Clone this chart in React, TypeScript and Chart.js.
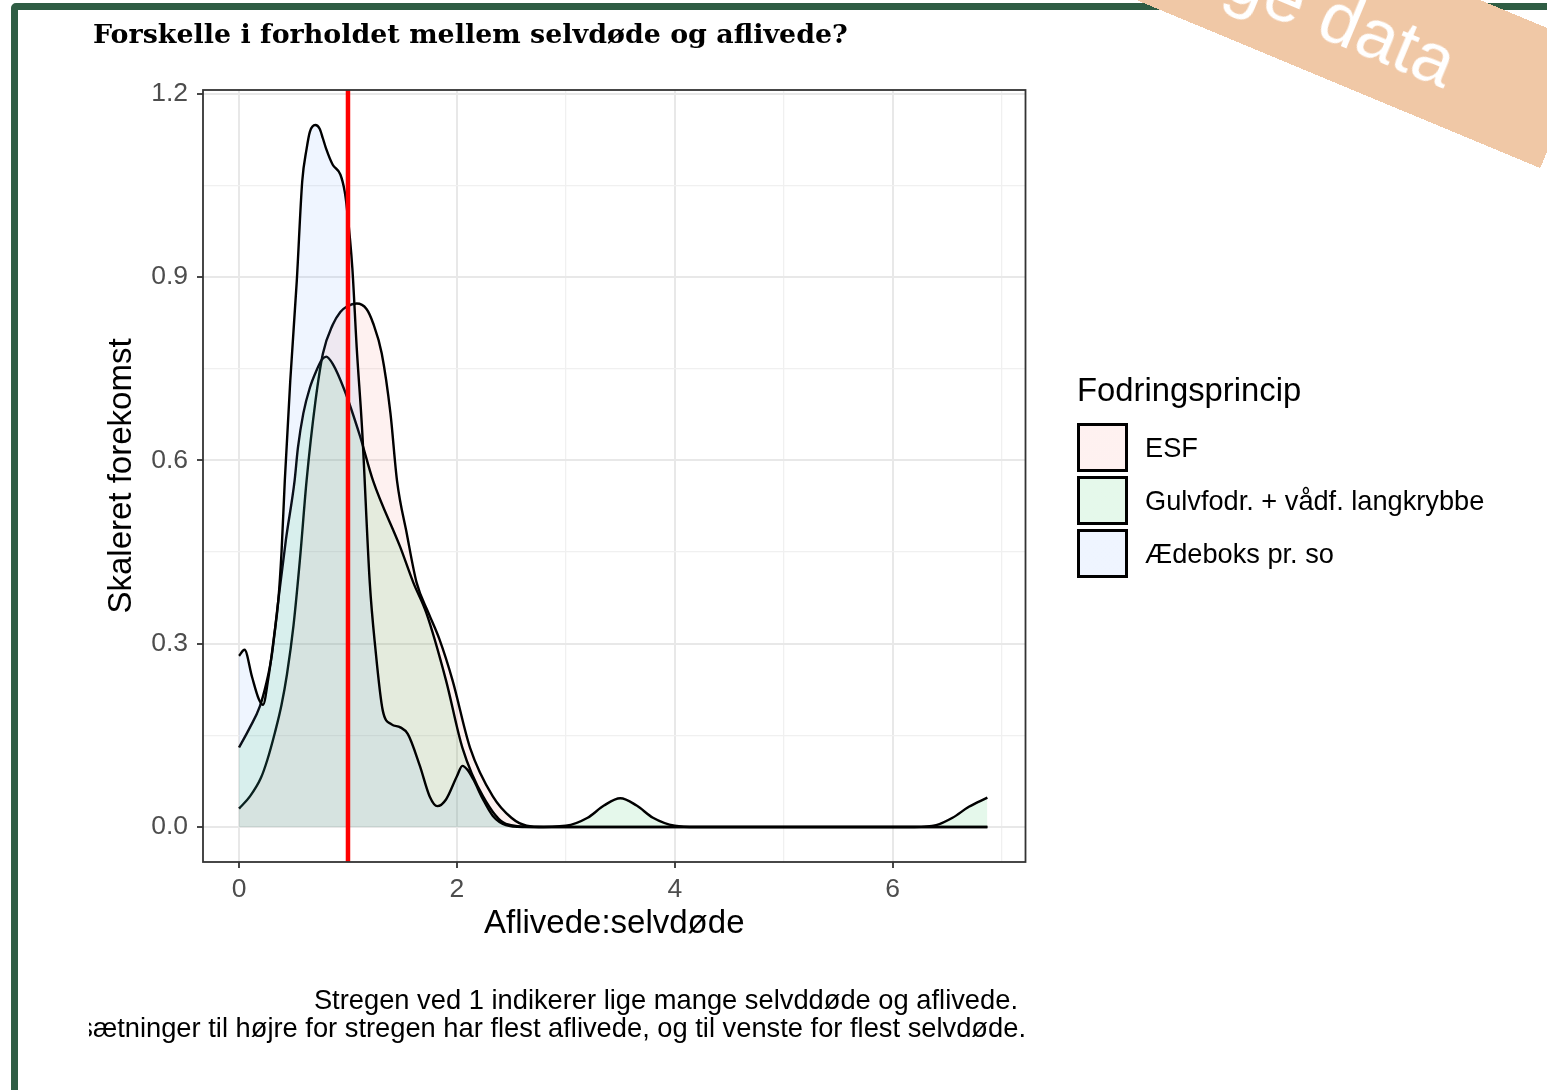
import React, { useEffect, useRef } from "react";
import { Chart, registerables } from "chart.js";

Chart.register(...registerables);

// ---------- data ----------
const esfX = [0, 0.1, 0.2, 0.26, 0.33, 0.39, 0.44, 0.5, 0.56, 0.62, 0.7, 0.77, 0.86, 0.93, 0.99, 1.08, 1.17, 1.23, 1.31, 1.39, 1.45, 1.54, 1.63, 1.74, 1.84, 1.96, 2.12, 2.33, 2.5, 2.64, 2.8, 4, 6, 6.87];
const esfY = [0.03, 0.05, 0.08, 0.11, 0.155, 0.2, 0.25, 0.33, 0.44, 0.567, 0.695, 0.775, 0.822, 0.843, 0.852, 0.857, 0.848, 0.825, 0.775, 0.677, 0.567, 0.48, 0.4, 0.35, 0.307, 0.24, 0.13, 0.05, 0.015, 0.002, 0, 0, 0, 0];

const gulvX = [0, 0.1, 0.19, 0.25, 0.3, 0.36, 0.43, 0.51, 0.54, 0.59, 0.65, 0.71, 0.76, 0.8, 0.86, 0.97, 1.11, 1.23, 1.48, 1.6, 1.72, 1.9, 2.05, 2.24, 2.45, 2.7, 3.0, 3.2, 3.35, 3.5, 3.65, 3.8, 4.0, 4.2, 6.2, 6.4, 6.55, 6.7, 6.87];
const gulvY = [0.13, 0.163, 0.197, 0.235, 0.28, 0.37, 0.47, 0.567, 0.62, 0.677, 0.719, 0.747, 0.765, 0.77, 0.758, 0.714, 0.64, 0.567, 0.458, 0.4, 0.35, 0.24, 0.13, 0.05, 0.005, 0, 0.002, 0.015, 0.035, 0.047, 0.035, 0.015, 0.002, 0, 0, 0.003, 0.015, 0.033, 0.048];

const aedX = [0, 0.05, 0.12, 0.18, 0.22, 0.27, 0.32, 0.36, 0.39, 0.42, 0.47, 0.53, 0.58, 0.62, 0.65, 0.7, 0.74, 0.77, 0.8, 0.86, 0.93, 0.97, 0.99, 1.04, 1.08, 1.13, 1.2, 1.25, 1.32, 1.4, 1.48, 1.55, 1.66, 1.75, 1.82, 1.9, 2.0, 2.05, 2.1, 2.15, 2.24, 2.33, 2.45, 2.6, 3.0, 4.0, 5.0, 6.0, 6.87];
const aedY = [0.28, 0.29, 0.245, 0.21, 0.2, 0.245, 0.31, 0.37, 0.45, 0.567, 0.73, 0.894, 1.057, 1.11, 1.138, 1.149, 1.143, 1.127, 1.11, 1.084, 1.068, 1.04, 1.013, 0.915, 0.785, 0.65, 0.4, 0.295, 0.19, 0.168, 0.163, 0.152, 0.1, 0.05, 0.034, 0.045, 0.083, 0.1, 0.093, 0.078, 0.045, 0.018, 0.003, 0, 0, 0, 0, 0, 0];

const seriesNames = ["ESF", "Gulvfodr. + vådf. langkrybbe", "Ædeboks pr. so"];
const seriesFill = ["rgba(248,118,109,0.1)", "rgba(0,186,56,0.1)", "rgba(97,156,255,0.1)"];

const refLineX = 1;

const xMajorTicks = [0, 2, 4, 6];
const xMinorTicks = [1, 3, 5, 7];
const yMajorTicks = [0, 0.3, 0.6, 0.9, 1.2];
const yMinorTicks = [0.15, 0.45, 0.75, 1.05];
const xRange = [-0.331, 7.22];
const yRange = [-0.0574, 1.2064];

const titleText = "Forskelle i forholdet mellem selvdøde og aflivede?";
const xTitle = "Aflivede:selvdøde";
const yTitle = "Skaleret forekomst";
const legendTitle = "Fodringsprincip";
const captionLines = [
  "Stregen ved 1 indikerer lige mange selvddøde og aflivede.",
  "Besætninger til højre for stregen har flest aflivede, og til venste for flest selvdøde.",
];
const bannerText = "ge data";

const SANS = "'Liberation Sans', Arial, Helvetica, sans-serif";

const isIn = (arr: number[], v: number) => arr.some((m) => Math.abs(m - v) < 1e-9);

export default function App() {
  const canvasRef = useRef<HTMLCanvasElement>(null);

  useEffect(() => {
    const canvas = canvasRef.current!;
    const pts = (xs: number[], ys: number[]) => xs.map((x, i) => ({ x, y: ys[i] }));

    const panelBorder = {
      id: "panelBorder",
      afterDatasetsDraw(chart: any) {
        const { ctx, chartArea: a } = chart;
        ctx.save();
        ctx.strokeStyle = "#333333";
        ctx.lineWidth = 1.8;
        ctx.strokeRect(a.left, a.top, a.right - a.left, a.bottom - a.top);
        ctx.restore();
      },
    };

    const curve = (label: string, xs: number[], ys: number[], fill: string) => ({
      label,
      data: pts(xs, ys),
      borderColor: "#000000",
      borderWidth: 2.4,
      backgroundColor: fill,
      fill: "origin",
      pointRadius: 0,
      cubicInterpolationMode: "monotone" as const,
    });

    const gridOpts = (major: number[]) => ({
      color: (ctx: any) => (isIn(major, ctx.tick?.value) ? "#e8e8e8" : "#f0f0f0"),
      lineWidth: (ctx: any) => (isIn(major, ctx.tick?.value) ? 2 : 1.3),
      tickColor: (ctx: any) => (isIn(major, ctx.tick?.value) ? "#333333" : "rgba(0,0,0,0)"),
      tickLength: 6,
      tickWidth: 1.8,
      drawTicks: true,
    });

    const chart = new Chart(canvas, {
      type: "line",
      data: {
        datasets: [
          {
            label: "ref",
            data: [
              { x: refLineX, y: -1 },
              { x: refLineX, y: 2 },
            ],
            borderColor: "#ff0000",
            borderWidth: 4.5,
            pointRadius: 0,
            fill: false,
            clip: 0,
          } as any,
          curve(seriesNames[2], aedX, aedY, seriesFill[2]),
          curve(seriesNames[1], gulvX, gulvY, seriesFill[1]),
          curve(seriesNames[0], esfX, esfY, seriesFill[0]),
        ],
      },
      options: {
        responsive: false,
        animation: false,
        devicePixelRatio: 1,
        layout: { padding: { left: 102.2, top: 90, right: 521.5, bottom: 146.2 } },
        plugins: {
          legend: { display: false },
          tooltip: { enabled: false },
          title: { display: false },
        },
        scales: {
          x: {
            type: "linear",
            min: xRange[0],
            max: xRange[1],
            afterBuildTicks: (s: any) => {
              s.ticks = [...xMajorTicks, ...xMinorTicks].sort((a, b) => a - b).map((v) => ({ value: v }));
            },
            afterFit: (s: any) => {
              s.height = 81.8;
            },
            ticks: {
              autoSkip: false,
              maxRotation: 0,
              minRotation: 0,
              padding: 6,
              color: "#4d4d4d",
              font: { family: SANS, size: 26.5 },
              callback: (v: any) => (isIn(xMajorTicks, Number(v)) ? String(v) : ""),
            },
            grid: gridOpts(xMajorTicks) as any,
            border: { display: false },
            title: {
              display: true,
              text: xTitle,
              color: "#000000",
              font: { family: SANS, size: 33 },
              padding: 0,
            },
          },
          y: {
            type: "linear",
            min: yRange[0],
            max: yRange[1],
            afterBuildTicks: (s: any) => {
              s.ticks = [...yMajorTicks, ...yMinorTicks].sort((a, b) => a - b).map((v) => ({ value: v }));
            },
            afterFit: (s: any) => {
              s.width = 100.8;
            },
            ticks: {
              autoSkip: false,
              padding: 9,
              color: "#4d4d4d",
              font: { family: SANS, size: 26.5 },
              callback: (v: any) => (isIn(yMajorTicks, Number(v)) ? Number(v).toFixed(1) : ""),
            },
            grid: gridOpts(yMajorTicks) as any,
            border: { display: false },
            title: {
              display: true,
              text: yTitle,
              color: "#000000",
              font: { family: SANS, size: 33 },
              padding: 0,
            },
          },
        },
      } as any,
      plugins: [panelBorder],
    });

    return () => chart.destroy();
  }, []);

  // banner geometry
  const bandL = 1000;
  const bandH = 132;
  const bandAngle = 22.6;

  return (
    <div
      style={{
        position: "absolute",
        left: 0,
        top: 0,
        width: 1547,
        height: 1090,
        overflow: "hidden",
        background: "#ffffff",
      }}
    >
      {/* green frame */}
      <div
        style={{
          position: "absolute",
          left: 11,
          top: 3,
          width: 1560,
          height: 1120,
          border: "7px solid #2f5d44",
          borderRadius: 5,
          boxSizing: "border-box",
        }}
      />
      <canvas
        ref={canvasRef}
        width={1547}
        height={1090}
        style={{ position: "absolute", left: 0, top: 0, width: 1547, height: 1090 }}
      />
      {/* title */}
      <div
        style={{
          position: "absolute",
          left: 93,
          top: 21,
          fontFamily: "'DejaVu Serif', 'Liberation Serif', serif",
          fontWeight: "bold",
          fontSize: 26.9,
          lineHeight: "26.9px",
          color: "#000",
          whiteSpace: "nowrap",
        }}
      >
        {titleText}
      </div>
      {/* legend */}
      <div
        style={{
          position: "absolute",
          left: 1077,
          top: 374,
          fontFamily: SANS,
          fontSize: 32.8,
          lineHeight: "32px",
          color: "#000",
          whiteSpace: "nowrap",
        }}
      >
        {legendTitle}
      </div>
      {seriesNames.map((name, i) => (
        <div
          key={name}
          style={{ position: "absolute", left: 1077, top: 423 + 53 * i, height: 49, display: "flex", alignItems: "center" }}
        >
          <div
            style={{
              width: 51,
              height: 49,
              boxSizing: "border-box",
              border: "3px solid #000",
              background: `linear-gradient(${seriesFill[i]}, ${seriesFill[i]}), #ffffff`,
            }}
          />
          <div
            style={{
              marginLeft: 17,
              fontFamily: SANS,
              fontSize: 27.2,
              lineHeight: "49px",
              color: "#000",
              whiteSpace: "nowrap",
            }}
          >
            {name}
          </div>
        </div>
      ))}
      {/* caption, clipped at the left like the reference */}
      <div
        style={{
          position: "absolute",
          left: 89,
          top: 984,
          width: 939,
          height: 66,
          overflow: "hidden",
          fontFamily: SANS,
          fontSize: 27.3,
          color: "#000",
        }}
      >
        {captionLines.map((line, i) => (
          <div
            key={i}
            style={{ position: "absolute", right: i === 0 ? 10 : 2, top: 28 * i, whiteSpace: "nowrap", lineHeight: "32px" }}
          >
            {line}
          </div>
        ))}
      </div>
      {/* banner */}
      <div
        style={{
          position: "absolute",
          left: 603.8,
          top: -151.1,
          width: bandL,
          height: bandH,
          background: "#f0c8a6",
          transform: `rotate(${bandAngle}deg)`,
          transformOrigin: "50% 50%",
          display: "flex",
          alignItems: "center",
          justifyContent: "flex-end",
          paddingRight: 120,
          paddingTop: 10,
          boxSizing: "border-box",
          color: "#ffffff",
          fontFamily: SANS,
          fontSize: 72,
          whiteSpace: "nowrap",
        }}
      >
        {bannerText}
      </div>
    </div>
  );
}
